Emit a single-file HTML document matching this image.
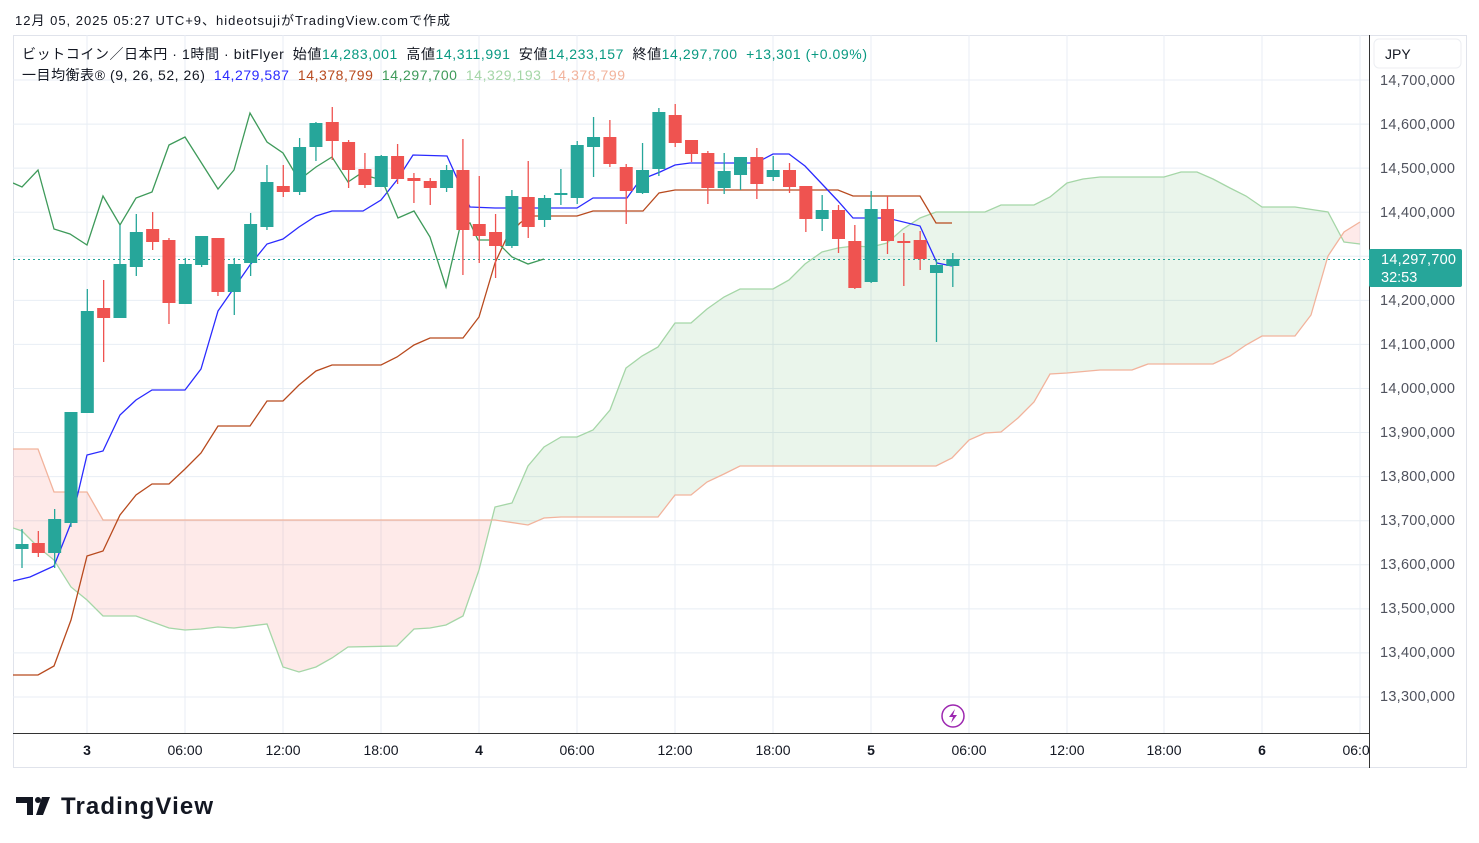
<!DOCTYPE html>
<html><head><meta charset="utf-8"><style>
body{margin:0;background:#fff;width:1479px;height:843px;overflow:hidden;font-family:"Liberation Sans","Noto Sans CJK JP",sans-serif}
svg{position:absolute;left:0;top:0}
</style></head><body>
<svg id="s" width="1479" height="843" xmlns="http://www.w3.org/2000/svg" font-family="Liberation Sans, Noto Sans CJK JP, sans-serif">
<defs>
<clipPath id="aboveB"><polygon id="cAB"/></clipPath>
<clipPath id="aboveA"><polygon id="cAA"/></clipPath>
<clipPath id="plot"><rect x="13" y="35" width="1356" height="698"/></clipPath>
</defs>
<rect x="13.5" y="35.5" width="1453" height="732" fill="none" stroke="#e0e3eb"/>
<g id="grid" stroke="#e8eef4" stroke-width="1"></g>
<g clip-path="url(#plot)">
<polygon id="fG" fill="rgba(67,160,71,0.11)" clip-path="url(#aboveB)"/>
<polygon id="fR" fill="rgba(244,67,54,0.11)" clip-path="url(#aboveA)"/>
<polyline id="lA" fill="none" stroke="#a5d6a7" stroke-width="1.3"/>
<polyline id="lB" fill="none" stroke="#f2b39c" stroke-width="1.3"/>
<line x1="13" y1="259.5" x2="1369" y2="259.5" stroke="#26a69a" stroke-dasharray="2,3"/>
<polyline id="lK" fill="none" stroke="#b84a1e" stroke-width="1.3"/>
<polyline id="lT" fill="none" stroke="#2a2aff" stroke-width="1.3"/>
<polyline id="lC" fill="none" stroke="#3e9a5a" stroke-width="1.3"/>
<g id="cd"></g>
</g>
<line x1="13" y1="733.5" x2="1369" y2="733.5" stroke="#333"/>
<line x1="1369.5" y1="35" x2="1369.5" y2="768" stroke="#333"/>
<circle cx="953" cy="716" r="11" fill="#fff" stroke="#9c27b0" stroke-width="1.5"/>
<path d="M955 709 L949 717 L953 717 L951 723 L957 715 L953 715 Z" fill="#9c27b0"/>
<g font-size="14" fill="#131722">
<text x="15" y="25" font-size="13" textLength="435">12月 05, 2025 05:27 UTC+9、hideotsujiがTradingView.comで作成</text>
<text x="22" y="59" textLength="845">ビットコイン／日本円 · 1時間 · bitFlyer <tspan dx="4">始値</tspan><tspan fill="#089981">14,283,001</tspan> <tspan dx="4">高値</tspan><tspan fill="#089981">14,311,991</tspan> <tspan dx="4">安値</tspan><tspan fill="#089981">14,233,157</tspan> <tspan dx="4">終値</tspan><tspan fill="#089981">14,297,700</tspan> <tspan fill="#089981" dx="4">+13,301 (+0.09%)</tspan></text>
<text x="22" y="80" textLength="603">一目均衡表® (9, 26, 52, 26) <tspan fill="#2a2aff" dx="4">14,279,587</tspan> <tspan fill="#b84a1e" dx="4">14,378,799</tspan> <tspan fill="#3e9a5a" dx="4">14,297,700</tspan> <tspan fill="#a5d6a7" dx="4">14,329,193</tspan> <tspan fill="#f2b39c" dx="4">14,378,799</tspan></text>
</g>
<g font-size="14.5" fill="#50535e">
<text x="1380" y="85" textLength="75">14,700,000</text>
<text x="1380" y="129" textLength="75">14,600,000</text>
<text x="1380" y="173" textLength="75">14,500,000</text>
<text x="1380" y="217" textLength="75">14,400,000</text>
<text x="1380" y="305" textLength="75">14,200,000</text>
<text x="1380" y="349" textLength="75">14,100,000</text>
<text x="1380" y="393" textLength="75">14,000,000</text>
<text x="1380" y="437" textLength="75">13,900,000</text>
<text x="1380" y="481" textLength="75">13,800,000</text>
<text x="1380" y="525" textLength="75">13,700,000</text>
<text x="1380" y="569" textLength="75">13,600,000</text>
<text x="1380" y="613" textLength="75">13,500,000</text>
<text x="1380" y="657" textLength="75">13,400,000</text>
<text x="1380" y="701" textLength="75">13,300,000</text>
</g>
<rect x="1374" y="39" width="87" height="29" rx="5" fill="#fff" stroke="#eceef2"/>
<text x="1385" y="59" font-size="14" fill="#131722">JPY</text>
<rect x="1369" y="249" width="93" height="38" rx="2" fill="#26a69a"/>
<text x="1381" y="264" font-size="14.5" fill="#fff" textLength="75">14,297,700</text>
<text x="1381" y="282" font-size="14.5" fill="#fff">32:53</text>
<g font-size="14" fill="#131722" text-anchor="middle">
<text x="87" y="755" font-weight="bold">3</text>
<text x="185" y="755">06:00</text>
<text x="283" y="755">12:00</text>
<text x="381" y="755">18:00</text>
<text x="479" y="755" font-weight="bold">4</text>
<text x="577" y="755">06:00</text>
<text x="675" y="755">12:00</text>
<text x="773" y="755">18:00</text>
<text x="871" y="755" font-weight="bold">5</text>
<text x="969" y="755">06:00</text>
<text x="1067" y="755">12:00</text>
<text x="1164" y="755">18:00</text>
<text x="1262" y="755" font-weight="bold">6</text>
<text x="1360" y="755">06:00</text>
</g>
<rect x="1370" y="740" width="30" height="25" fill="#fff"/>
<g fill="#131722">
<path d="M16 797 H33 V815 H27 V803 H16 Z"/>
<circle cx="38" cy="800" r="3"/>
<path d="M42 797 H50 L43 815 H36 Z"/>
<text x="61" y="814" font-size="24" font-weight="bold" textLength="152">TradingView</text>
</g>
</svg>
<script>
const N='http://www.w3.org/2000/svg';
const g=document.getElementById('grid');
for(let i=0;i<15;i++){const y=80+i*44.07;const l=document.createElementNS(N,'line');l.setAttribute('x1',13);l.setAttribute('x2',1369);l.setAttribute('y1',y);l.setAttribute('y2',y);g.appendChild(l);}
[87,185,283,381,479,577,675,773,871,969,1067,1164,1262,1360].forEach(x=>{const l=document.createElementNS(N,'line');l.setAttribute('x1',x);l.setAttribute('x2',x);l.setAttribute('y1',35);l.setAttribute('y2',733);g.appendChild(l);});
const C=[[544,549,529,568,1],[543,553,531,557,0],[519,553,509,568,1],[412,523,412,527,1],[311,413,289,413,1],[308,318,280,362,0],[264,318,225,318,1],[232,267,214,276,1],[229,242,212,250,0],[240,303,238,324,0],[264,304,258,304,1],[236,265,236,267,1],[238,292,238,296,0],[264,292,258,315,1],[224,263,213,276,1],[182,227,165,230,1],[186,192,165,197,0],[147,192,138,195,1],[123,147,122,161,1],[122,141,107,160,0],[142,170,140,188,0],[169,185,153,188,0],[156,187,155,187,1],[156,179,144,184,0],[178,181,173,203,0],[181,188,178,205,0],[170,188,165,192,1],[170,230,139,275,0],[224,236,176,263,0],[232,246,214,278,0],[196,246,190,248,1],[197,227,161,238,0],[198,220,195,227,1],[193,194,169,205,1],[145,198,141,204,1],[137,147,117,177,1],[137,164,120,167,0],[167,191,164,224,0],[170,193,143,194,1],[112,169,108,176,1],[115,143,104,147,0],[140,154,140,162,0],[153,188,151,204,0],[171,188,153,194,1],[157,175,157,190,1],[157,184,148,199,0],[170,177,156,181,1],[170,187,163,193,0],[186,219,186,232,0],[210,219,195,231,1],[210,239,205,253,0],[241,288,225,289,0],[209,282,191,283,1],[209,241,196,254,0],[241,242,233,286,0],[240,259,231,270,0],[265,273,259,342,1],[259,266,253,287,1]];
const cd=document.getElementById('cd');
C.forEach((c,i)=>{const x=22+16.33*i;const col=c[4]?'#26a69a':'#ef5350';
const w=document.createElementNS(N,'line');w.setAttribute('x1',x);w.setAttribute('x2',x);w.setAttribute('y1',c[2]);w.setAttribute('y2',c[3]);w.setAttribute('stroke',col);w.setAttribute('stroke-width',1.3);cd.appendChild(w);
const r=document.createElementNS(N,'rect');r.setAttribute('x',x-6.5);r.setAttribute('width',13);r.setAttribute('y',c[0]);r.setAttribute('height',Math.max(2,c[1]-c[0]));r.setAttribute('fill',col);cd.appendChild(r);});
const T=[[13,581],[30,577],[54,566],[71,523],[87,455],[103,451],[120,415],[136,400],[152,390],[185,390],[201,369],[218,311],[234,288],[250,265],[267,244],[283,239],[299,227],[316,216],[332,211],[363,211],[381,200],[397,180],[413,155],[447,156],[470,207],[495,208],[577,208],[593,198],[627,198],[640,180],[660,172],[675,165],[690,163],[756,163],[773,154],[789,154],[805,166],[822,184],[838,201],[853,218],[887,218],[920,226],[937,263],[952,266]];
const K=[[13,675],[38,675],[54,666],[71,620],[87,556],[103,551],[120,515],[136,495],[152,484],[169,484],[185,469],[201,453],[218,426],[250,426],[267,401],[283,401],[299,385],[316,371],[332,365],[381,365],[397,357],[414,345],[430,338],[463,338],[479,317],[495,263],[507,237],[520,223],[530,216],[577,216],[593,211],[643,211],[659,193],[675,190],[838,190],[853,196],[920,196],[936,223],[952,223]];
const CH=[[13,183],[22,187],[38,170],[54,229],[70,234],[87,245],[103,196],[120,225],[136,198],[152,192],[169,145],[185,137],[218,189],[234,170],[250,113],[267,142],[283,153],[299,180],[316,167],[332,157],[348,182],[360,174],[382,180],[398,218],[414,211],[430,237],[446,287],[460,227],[470,223],[478,240],[495,240],[512,257],[528,264],[544,259]];
const A=[[13,528],[22,531],[38,547],[54,560],[71,587],[87,600],[103,616],[136,616],[169,628],[185,630],[201,629],[218,627],[234,628],[267,624],[283,667],[299,672],[316,667],[332,658],[348,647],[397,646],[414,629],[430,628],[446,625],[463,616],[479,570],[495,507],[512,503],[528,466],[544,447],[561,437],[577,437],[593,430],[610,410],[626,368],[642,356],[658,347],[675,323],[691,323],[707,309],[724,297],[740,289],[773,289],[789,280],[805,264],[822,252],[838,248],[854,246],[871,247],[887,243],[903,229],[920,218],[936,212],[985,212],[1001,205],[1034,205],[1050,197],[1067,183],[1083,179],[1100,177],[1164,177],[1181,172],[1197,172],[1213,179],[1230,188],[1246,196],[1262,207],[1295,207],[1328,212],[1344,242],[1360,244]];
const B=[[13,449],[38,449],[54,492],[87,492],[103,520],[495,520],[528,525],[544,518],[561,517],[658,517],[675,495],[691,495],[707,482],[724,474],[740,466],[936,466],[952,458],[969,440],[985,433],[1001,432],[1018,418],[1034,402],[1050,374],[1067,373],[1100,370],[1132,370],[1148,364],[1213,364],[1230,356],[1246,345],[1262,336],[1295,336],[1311,315],[1328,256],[1344,232],[1360,222]];
const p=a=>a.map(q=>q.join(',')).join(' ');
const S=(id,a)=>document.getElementById(id).setAttribute('points',a);
S('lT',p(T));S('lK',p(K));S('lC',p(CH));S('lA',p(A));S('lB',p(B));
S('cAB',p(B)+' 1360,0 13,0');S('cAA',p(A)+' 1360,0 13,0');
S('fG',p(A)+' 1360,843 13,843');S('fR',p(B)+' 1360,843 13,843');
</script>
</body></html>
